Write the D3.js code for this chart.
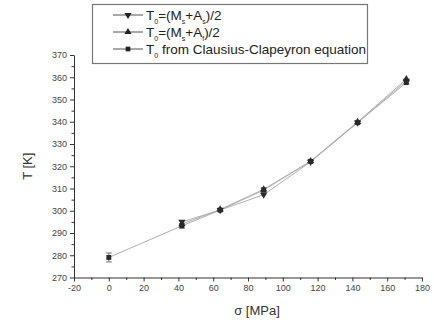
<!DOCTYPE html>
<html>
<head>
<meta charset="utf-8">
<script src="https://cdn.jsdelivr.net/npm/d3@7"></script>
<style>
  body { margin: 0; background: #fff; }
  svg { display: block; font-family: "Liberation Sans", Arial, sans-serif; }
</style>
</head>
<body>
<div id="chart"></div>
<script>
// Stress values (MPa) and transformation temperatures (K)
const sigma = [0, 42, 64, 89, 116, 143, 171];
const tMsAs = [null, 295, 300.3, 307.2, 322, 339.6, 358.4];
const tMsAf = [null, 294, 300.6, 309.6, 322.3, 339.9, 359.2];
const tCC = [279, 293.2, 300.3, 309.3, 322.2, 339.6, 357.6];
const errCC = [2, 1, 0.6, 1, 0.6, 0.6, 0.6];

const xTicks = [-20, 0, 20, 40, 60, 80, 100, 120, 140, 160, 180];
const yTicks = [270, 280, 290, 300, 310, 320, 330, 340, 350, 360, 370];

const margin = { top: 55, left: 74 };
const width = 348, height = 222.5;

const svg = d3.select("#chart").append("svg")
    .attr("width", 434)
    .attr("height", 324);

const g = svg.append("g")
    .attr("transform", "translate(" + margin.left + "," + margin.top + ")");

const x = d3.scaleLinear().domain([-20, 180]).range([0, width]);
const y = d3.scaleLinear().domain([270, 370]).range([height, 0]);

// Axes with minor ticks
const xMinor = d3.range(-10, 180, 20);
const yMinor = d3.range(275, 370, 10);

g.append("g")
    .attr("transform", "translate(0," + height + ")")
    .call(d3.axisBottom(x).tickValues(xMinor).tickSize(2.5).tickFormat(""))
    .call(a => a.select(".domain").remove());
g.append("g")
    .call(d3.axisLeft(y).tickValues(yMinor).tickSize(2.5).tickFormat(""))
    .call(a => a.select(".domain").remove());

g.append("g")
    .attr("transform", "translate(0," + height + ")")
    .call(d3.axisBottom(x).tickValues(xTicks).tickSize(4).tickSizeOuter(0).tickPadding(3)
        .tickFormat(d => String(d)));
g.append("g")
    .call(d3.axisLeft(y).tickValues(yTicks).tickSize(4).tickSizeOuter(0).tickPadding(3));

g.selectAll(".tick line, .domain").attr("stroke", "#333");
g.selectAll(".tick text").attr("font-size", "9px").attr("fill", "#444")
    .attr("font-family", "Liberation Sans, Arial, sans-serif");

// Axis titles
svg.append("text")
    .attr("x", 257)
    .attr("y", 315)
    .attr("text-anchor", "middle")
    .attr("font-size", "13px")
    .attr("fill", "#333")
    .text("σ [MPa]");

svg.append("text")
    .attr("transform", "translate(32," + (margin.top + height / 2) + ") rotate(-90)")
    .attr("text-anchor", "middle")
    .attr("font-size", "13px")
    .attr("fill", "#333")
    .text("T [K]");

// Series
const series = [
    { vals: tMsAs, sym: d3.symbolTriangle, rot: 180 },
    { vals: tMsAf, sym: d3.symbolTriangle, rot: 0 },
    { vals: tCC, sym: d3.symbolSquare, rot: 0 }
];

const line = d3.line()
    .defined(d => d[1] != null)
    .x(d => x(d[0]))
    .y(d => y(d[1]));

series.forEach(s => {
    const pts = sigma.map((v, i) => [v, s.vals[i]]);
    g.append("path")
        .datum(pts)
        .attr("d", line)
        .attr("fill", "none")
        .attr("stroke", "#b0b0b0")
        .attr("stroke-width", 1);
});

// Error bars for Clausius-Clapeyron series
const eb = g.append("g").attr("stroke", "#555").attr("stroke-width", 0.8);
sigma.forEach((v, i) => {
    const cx = x(v);
    const y1 = y(tCC[i] - errCC[i]), y2 = y(tCC[i] + errCC[i]);
    eb.append("line").attr("x1", cx).attr("x2", cx).attr("y1", y1).attr("y2", y2);
    eb.append("line").attr("x1", cx - 3).attr("x2", cx + 3).attr("y1", y1).attr("y2", y1);
    eb.append("line").attr("x1", cx - 3).attr("x2", cx + 3).attr("y1", y2).attr("y2", y2);
});

series.forEach(s => {
    const pts = sigma.map((v, i) => [v, s.vals[i]]).filter(d => d[1] != null);
    g.selectAll(null)
        .data(pts)
        .join("path")
        .attr("d", d3.symbol().type(s.sym).size(s.sym === d3.symbolSquare ? 24 : 22))
        .attr("transform", d => "translate(" + x(d[0]) + "," + y(d[1]) + ") rotate(" + s.rot + ")")
        .attr("fill", "#2a2a2a");
});

// Legend
const lg = svg.append("g");
lg.append("clipPath").attr("id", "lgclip")
    .append("rect").attr("x", 92).attr("y", 4).attr("width", 276).attr("height", 60);
lg.append("rect")
    .attr("x", 92.5).attr("y", 4.5)
    .attr("width", 275).attr("height", 59)
    .attr("fill", "#fff")
    .attr("stroke", "#777")
    .attr("stroke-width", 1.2);

const legendRows = [
    { sym: d3.symbolTriangle, rot: 180, parts: [["T", 0], ["0", 1], ["=(M", 0], ["s", 1], ["+A", 0], ["s", 1], [")/2", 0]] },
    { sym: d3.symbolTriangle, rot: 0, parts: [["T", 0], ["0", 1], ["=(M", 0], ["s", 1], ["+A", 0], ["f", 1], [")/2", 0]] },
    { sym: d3.symbolSquare, rot: 0, parts: [["T", 0], ["0", 1], [" from Clausius-Clapeyron equation", 0]] }
];

legendRows.forEach((r, i) => {
    const cy = 15 + i * 17;
    lg.append("line")
        .attr("x1", 113).attr("x2", 143)
        .attr("y1", cy).attr("y2", cy)
        .attr("stroke", "#555").attr("stroke-width", 1);
    lg.append("path")
        .attr("d", d3.symbol().type(r.sym).size(22))
        .attr("transform", "translate(128," + cy + ") rotate(" + r.rot + ")")
        .attr("fill", "#222");
    const t = lg.append("text")
        .attr("x", 146).attr("y", cy + 4.5)
        .attr("font-size", "13.5px")
        .attr("clip-path", "url(#lgclip)")
        .attr("fill", "#222");
    let sub = false;
    r.parts.forEach(p => {
        const ts = t.append("tspan").text(p[0]);
        if (p[1]) ts.attr("font-size", "7px");
        if (p[1] && !sub) { ts.attr("dy", 4); sub = true; }
        else if (!p[1] && sub) { ts.attr("dy", -4); sub = false; }
    });
});
</script>
</body>
</html>
